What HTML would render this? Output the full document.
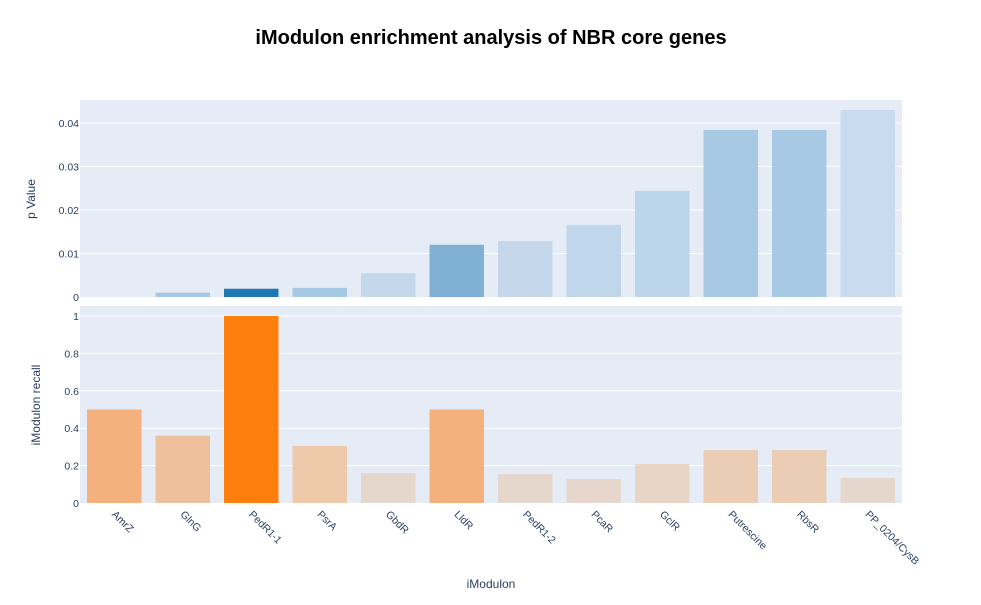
<!DOCTYPE html>
<html><head><meta charset="utf-8"><style>
body{margin:0;background:#fff;font-family:"Liberation Sans",sans-serif;}
svg text{font-family:"Liberation Sans",sans-serif;fill:#2a3f5f;}
</style></head><body>
<svg id="chart" width="981" height="600">
<text x="491" y="44" text-anchor="middle" font-size="20" font-weight="bold" style="fill:#000">iModulon enrichment analysis of NBR core genes</text>
<rect x="80" y="100" width="822" height="197" fill="#e5ecf6"/>
<rect x="80" y="306" width="822" height="197" fill="#e5ecf6"/>
<g id="g"></g>
<text transform="translate(35,199) rotate(-90)" text-anchor="middle" font-size="12">p Value</text>
<text transform="translate(40,405) rotate(-90)" text-anchor="middle" font-size="12">iModulon recall</text>
<text x="491" y="588" text-anchor="middle" font-size="12">iModulon</text>
</svg>
<script>
const categories=["AmrZ","GlnG","PedR1-1","PsrA","GbdR","LldR","PedR1-2","PcaR","GclR","Putrescine","RbsR","PP_0204/CysB"];
const pValues=[0,0.001,0.0019,0.0021,0.0055,0.012,0.0129,0.0166,0.0244,0.0384,0.0384,0.043];
const recall=[0.5,0.36,1.0,0.305,0.16,0.5,0.155,0.128,0.208,0.283,0.283,0.134];
const pTicks=[0,0.01,0.02,0.03,0.04];
const rTicks=[0,0.2,0.4,0.6,0.8,1];
const topColors=["#c9dbee","#a6c8e3","#1f77b4","#a6c8e3","#c4d8ec","#80b0d4","#c5d8eb","#c0d6eb","#bcd5eb","#a8c9e4","#a8c9e4","#c9dbee"];
const botColors=["#f4b07d","#efc09c","#ff7f0e","#eec9aa","#e6d7cd","#f4b07d","#e6d7cd","#e6d6cc","#e8d5c5","#ebcdb6","#ebcdb6","#e6d7cd"];
const NS="http://www.w3.org/2000/svg",g=document.getElementById('g');
const x0=80,band=822/12,bw=54.5;
const yTop=v=>297-v*4350;
const yBot=v=>503-v*187;
function mk(t,a){const e=document.createElementNS(NS,t);for(const k in a)e.setAttribute(k,a[k]);g.appendChild(e);return e;}
pTicks.forEach(t=>{const y=yTop(t);
 if(t>0){const l=mk('line',{x1:80,x2:902,y1:y,y2:y,stroke:'#fff','stroke-width':1});
 
 }
 const tx=mk('text',{x:79,y:y+4,'text-anchor':'end','font-size':10.5});tx.textContent=String(t);
 
 });
rTicks.forEach(t=>{const y=yBot(t);
 if(t>0){const l=mk('line',{x1:80,x2:902,y1:y,y2:y,stroke:'#fff','stroke-width':1});
 
 }
 const tx=mk('text',{x:79,y:y+4,'text-anchor':'end','font-size':10.5});tx.textContent=String(t);
 
 });
categories.forEach((c,i)=>{const cx=x0+band*(i+0.5);
 const r1=mk('rect',{x:cx-bw/2,y:yTop(pValues[i]),width:bw,height:297-yTop(pValues[i]),fill:topColors[i]});
 
 
 const r2=mk('rect',{x:cx-bw/2,y:yBot(recall[i]),width:bw,height:503-yBot(recall[i]),fill:botColors[i]});
 
 
 const t=mk('text',{transform:`translate(${cx-3},515) rotate(45)`,'font-size':10.5});t.textContent=c;
 
 });
</script>
</body></html>
